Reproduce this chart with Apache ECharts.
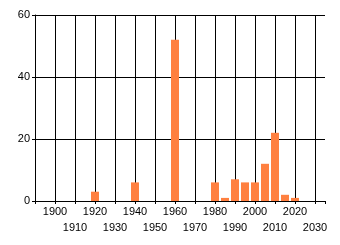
<!DOCTYPE html>
<html>
<head>
<meta charset="utf-8">
<script src="https://cdn.jsdelivr.net/npm/echarts@6/dist/echarts.min.js"></script>
<style>
  html, body { margin: 0; padding: 0; background: #fff; }
  #chart { width: 340px; height: 245px; }
</style>
</head>
<body>
<div id="chart"></div>
<script>
// bins of 5 years, count per bin
var years = [1920, 1940, 1960, 1980, 1985, 1990, 1995, 2000, 2005, 2010, 2015, 2020];
var counts = [3, 6, 52, 6, 1, 7, 6, 6, 12, 22, 2, 1];
var yTicks = [0, 20, 40, 60];

var chart = echarts.init(document.getElementById('chart'));

var pairs = years.map(function(y, i){ return [y, counts[i]]; });

// split lines: black on every decade, none on the 2035 edge
var gridColors = [];
for (var v = 1890; v <= 2030; v += 10) gridColors.push('#000');
gridColors.push('rgba(0,0,0,0)');

chart.setOption({
  animation: false,
  grid: { left: 35, top: 15, right: 15, bottom: 44 },
  xAxis: {
    type: 'value',
    min: 1890,
    max: 2035,
    interval: 10,
    axisLine: { show: true, lineStyle: { color: '#000', width: 1 } },
    axisTick: { show: true, length: 3, lineStyle: { color: '#000' } },
    splitLine: { show: true, lineStyle: { color: gridColors, width: 1 } },
    axisLabel: {
      color: '#000',
      fontFamily: 'Liberation Sans',
      fontSize: 11,
      lineHeight: 16,
      margin: 3,
      showMinLabel: true,
      showMaxLabel: true,
      formatter: function(val){
        if (val < 1900 || val > 2030) return '';
        return (val / 10) % 2 === 1 ? '\n' + val : String(val);
      }
    }
  },
  yAxis: {
    type: 'value',
    min: yTicks[0],
    max: yTicks[yTicks.length - 1],
    interval: 20,
    axisLine: { show: true, lineStyle: { color: '#000', width: 1 } },
    axisTick: { show: true, length: 3, lineStyle: { color: '#000' } },
    splitLine: { show: true, lineStyle: { color: '#000', width: 1 } },
    axisLabel: {
      color: '#000',
      fontFamily: 'Liberation Sans',
      fontSize: 11,
      margin: 5
    }
  },
  series: [{
    type: 'bar',
    data: pairs,
    barWidth: 8,
    itemStyle: { color: '#ff8040' }
  }]
});
</script>
</body>
</html>
